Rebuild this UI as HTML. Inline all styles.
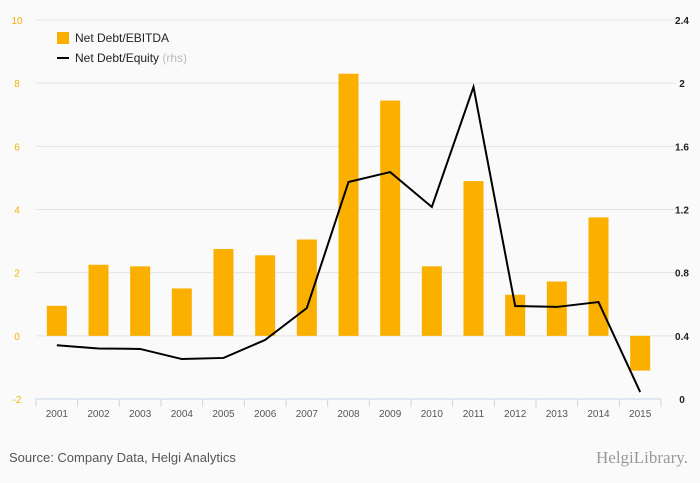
<!DOCTYPE html>
<html><head><meta charset="utf-8"><style>
html,body{margin:0;width:700px;height:483px;overflow:hidden;background:#fafafa;font-family:"Liberation Sans",sans-serif}
svg{display:block}
svg text{font-family:"Liberation Sans",sans-serif}
</style></head><body>
<svg id="c" width="700" height="483"></svg>
<script>
const categories=["2001","2002","2003","2004","2005","2006","2007","2008","2009","2010","2011","2012","2013","2014","2015"];
const ebitda=[0.95,2.25,2.2,1.5,2.75,2.55,3.05,8.3,7.45,2.2,4.9,1.3,1.72,3.75,-1.1];
const equity=[0.34,0.32,0.317,0.253,0.26,0.374,0.576,1.374,1.437,1.216,1.976,0.589,0.583,0.614,0.044];
const leftTicks=[-2,0,2,4,6,8,10];
const rightTicks=[0,0.4,0.8,1.2,1.6,2,2.4];
const NS="http://www.w3.org/2000/svg";
const svg=document.getElementById('c');
const x0=36,x1=661,yTop=20,yBot=399;
const bw=(x1-x0)/categories.length;
const yL=v=>yBot-(v+2)/12*(yBot-yTop);
const yR=v=>yBot-v/2.4*(yBot-yTop);
const xC=i=>x0+bw*(i+0.5);
function mk(t,a,txt){const e=document.createElementNS(NS,t);for(const k in a)e.setAttribute(k,a[k]);if(txt!==undefined)e.textContent=txt;svg.appendChild(e);return e;}
leftTicks.forEach((t,i)=>{
 const y=yL(t);
 if(t>-2){const g=mk('line',{x1:x0,x2:x1+15,y1:y,y2:y,stroke:'#e4e4e4','stroke-width':1});
 
 }
 const l=mk('text',{x:17,y:y+4,'font-size':10,fill:'#f4b400','text-anchor':'middle'},t);
 
 
});
rightTicks.forEach(t=>{
 const l=mk('text',{x:682,y:yR(t)+4,'font-size':10,fill:'#222','text-anchor':'middle','font-weight':'bold'},t);
 
 
});
ebitda.forEach((v,i)=>{
 const y=Math.min(yL(v),yL(0)),h=Math.abs(yL(v)-yL(0));
 const r=mk('rect',{x:xC(i)-10,y:y,width:20,height:h,fill:'#fbb000'});
 
 
});
const ax=mk('line',{x1:x0,x2:x1,y1:yBot,y2:yBot,stroke:'#c8d6ea'});


for(let i=0;i<=categories.length;i++){
 const t=mk('line',{x1:x0+bw*i,x2:x0+bw*i,y1:yBot,y2:yBot+8,stroke:'#c8d6ea'});
 
 
}
categories.forEach((c,i)=>{
 const l=mk('text',{x:xC(i),y:yBot+18,'font-size':10,fill:'#555','text-anchor':'middle'},c);
 
 
});
const pts=equity.map((v,i)=>xC(i)+','+yR(v)).join(' ');
const pl=mk('polyline',{points:pts,fill:'none',stroke:'#000','stroke-width':2});


</script>
<div style="position:absolute;left:57px;top:28px;font-size:12px;color:#222;line-height:20px">
 <div><span style="display:inline-block;width:12px;height:12px;background:#fbb000;vertical-align:-2px;margin-right:6px"></span>Net Debt/EBITDA</div>
 <div><span style="display:inline-block;width:12px;height:2px;background:#000;vertical-align:3px;margin-right:6px"></span>Net Debt/Equity <span style="color:#bbb">(rhs)</span></div>
</div>
<div style="position:absolute;left:9px;top:450px;font-size:13px;color:#555">Source: Company Data, Helgi Analytics</div>
<div style="position:absolute;left:596px;top:448px;font-family:'Liberation Serif',serif;font-size:17px;color:#999">HelgiLibrary.</div>
</body></html>
